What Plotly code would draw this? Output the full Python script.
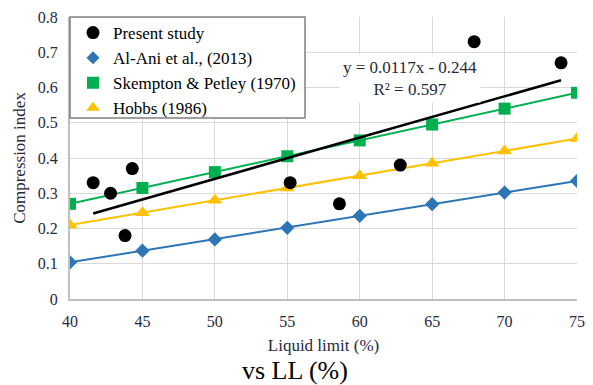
import plotly.graph_objects as go

ll_study = [41.6, 42.8, 43.8, 44.3, 55.2, 58.6, 62.8, 67.9, 73.9]
cc_study = [0.33, 0.30, 0.18, 0.37, 0.33, 0.27, 0.38, 0.73, 0.67]

ll_ref = [40, 45, 50, 55, 60, 65, 70, 75]
cc_alani = [0.104, 0.137, 0.169, 0.202, 0.236, 0.269, 0.302, 0.335]
cc_skempton = [0.27, 0.315, 0.36, 0.405, 0.45, 0.495, 0.54, 0.585]
cc_hobbs = [0.21, 0.245, 0.28, 0.315, 0.35, 0.385, 0.42, 0.455]

slope, intercept, r2 = 0.0117, -0.244, 0.597
trend_x = [min(ll_study), max(ll_study)]
trend_y = [slope * v + intercept for v in trend_x]

FONT = "Liberation Serif"
TXT = "#242a3c"
BLUE, GREEN, ORANGE = "#2E75B6", "#00B050", "#FFC000"

# page body has an 8px margin; size the figure so the plot lands where the reference has it
OFF = 8
W, H = 593 - OFF, 385 - OFF
L, T = 70 - OFF, 17 - OFF
pw, ph = 507, 282
R, B = W - L - pw, H - T - ph


def px_x(x):  # page pixel -> paper fraction
    return (x - 70) / pw


def px_y(y):
    return (299 - y) / ph


fig = go.Figure()
fig.add_trace(go.Scatter(x=ll_ref, y=cc_alani, mode="lines+markers", showlegend=False,
                         line=dict(color=BLUE, width=2),
                         marker=dict(symbol="diamond", size=11, color=BLUE)))
fig.add_trace(go.Scatter(x=ll_ref, y=cc_hobbs, mode="lines+markers", showlegend=False,
                         line=dict(color=ORANGE, width=2),
                         marker=dict(symbol="triangle-up", size=13, color=ORANGE)))
fig.add_trace(go.Scatter(x=ll_ref, y=cc_skempton, mode="lines+markers", showlegend=False,
                         line=dict(color=GREEN, width=2),
                         marker=dict(symbol="square", size=12, color=GREEN)))
fig.add_trace(go.Scatter(x=trend_x, y=trend_y, mode="lines", showlegend=False,
                         line=dict(color="black", width=2.5)))
fig.add_trace(go.Scatter(x=ll_study, y=cc_study, mode="markers", showlegend=False,
                         marker=dict(symbol="circle", size=13, color="black")))

# legend entries (marker only, like the original)
for name, sym, col, sz in [("Present study", "circle", "black", 13),
                           ("Al-Ani et al., (2013)", "diamond", BLUE, 10),
                           ("Skempton & Petley (1970)", "square", GREEN, 12),
                           ("Hobbs (1986)", "triangle-up", ORANGE, 12)]:
    fig.add_trace(go.Scatter(x=[None], y=[None], mode="markers", name=name,
                             marker=dict(symbol=sym, size=sz, color=col)))

fig.add_annotation(x=63.5, y=0.625, xref="x", yref="y", showarrow=False,
                   xanchor="center", yanchor="middle",
                   text=f"y = {slope}x - {abs(intercept)}<br>R² = {r2}",
                   font=dict(family=FONT, size=17, color=TXT),
                   bgcolor="white", borderpad=3, align="center")

fig.add_annotation(x=px_x(295), y=px_y(370), xref="paper", yref="paper",
                   xanchor="center", yanchor="middle",
                   showarrow=False, text="vs LL (%)",
                   font=dict(family=FONT, size=26, color="black"))

fig.add_shape(type="rect", xref="paper", yref="paper",
              x0=0, x1=px_x(305), y0=px_y(118), y1=1,
              line=dict(color="#808080", width=1.5), fillcolor="white", layer="above")

fig.update_layout(
    width=W, height=H,
    margin=dict(l=L, r=R, t=T, b=B, autoexpand=False),
    paper_bgcolor="white", plot_bgcolor="white",
    font=dict(family=FONT, color=TXT),
    legend=dict(x=px_x(73), y=px_y(15), xanchor="left", yanchor="top",
                bgcolor="rgba(0,0,0,0)", borderwidth=0,
                font=dict(family=FONT, size=17, color="black"),
                itemwidth=30, tracegroupgap=0),
    xaxis=dict(range=[40, 75], dtick=5, showgrid=True, gridcolor="#d9d9d9", gridwidth=1,
               showline=True, linecolor="#bfbfbf", linewidth=2, zeroline=False,
               automargin=False, ticks="", ticklabelstandoff=7,
               tickfont=dict(size=16, family=FONT, color=TXT),
               title=dict(text="Liquid limit (%)", font=dict(size=17, family=FONT, color=TXT),
                          standoff=10)),
    yaxis=dict(range=[0, 0.8], dtick=0.1, showgrid=True, gridcolor="#d9d9d9", gridwidth=1,
               showline=True, linecolor="#bfbfbf", linewidth=2, zeroline=False,
               automargin=False, ticks="", tickformat="~g", ticklabelstandoff=7,
               tickfont=dict(size=16, family=FONT, color=TXT),
               title=dict(text="Compression index", font=dict(size=17, family=FONT, color=TXT),
                          standoff=8)),
)

fig.write_html("out.html")
